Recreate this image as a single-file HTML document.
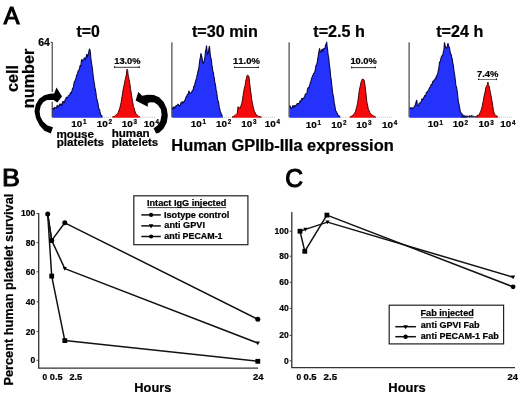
<!DOCTYPE html>
<html><head><meta charset="utf-8"><style>
html,body{margin:0;padding:0;background:#fff;}
body{width:520px;height:396px;overflow:hidden;}
svg{display:block;will-change:transform;font-family:"Liberation Sans",sans-serif;font-kerning:none;}
text{font-weight:bold;stroke:#000;stroke-width:0.22px;}
</style></head><body>
<svg width="520" height="396" viewBox="0 0 520 396">
<rect width="520" height="396" fill="#fff"/>
<line x1="52.2" y1="117.2" x2="156.2" y2="117.2" stroke="#aaa" stroke-width="0.7" stroke-dasharray="1 1"/>
<path d="M52.4 117.8 L52.4 109.7 L52.97 108.08 L53.53 109.33 L54.1 108.44 L54.6 107.08 L55.1 107.82 L55.6 107.76 L56.1 107.92 L56.6 107.91 L57.1 105.56 L57.6 105.21 L58.1 107.31 L58.6 106.01 L59.1 106.4 L59.6 103.74 L60.1 104.45 L60.6 105.15 L61.1 103.71 L61.6 105.65 L62.13 104.92 L62.67 101.89 L63.2 101.27 L63.7 102.32 L64.2 103.03 L64.7 101.07 L65.2 99.67 L65.7 99.32 L66.2 97.28 L66.7 97.42 L67.2 97.63 L67.7 97.39 L68.17 96.15 L68.65 95.65 L69.12 95.11 L69.6 95.29 L70.07 94.01 L70.53 92.46 L71 93.95 L71.55 91.81 L72.1 90.7 L72.6 87.75 L73.1 88.35 L73.6 86.31 L74.1 82.54 L74.6 81.43 L75.1 80.82 L75.6 79.12 L76.1 78.09 L76.6 74.98 L77.12 74.85 L77.65 73.13 L78.17 70.82 L78.7 70.35 L79.2 69.5 L79.7 67.74 L80.2 65.11 L80.8 66.75 L81.25 61.95 L81.7 59.28 L82.27 61.17 L82.83 60.43 L83.4 60.08 L83.9 59.14 L84.4 57.57 L85.1 59.99 L85.8 57.85 L86.3 56.03 L86.8 54.22 L87.4 57.28 L88 55.26 L88.47 53.2 L88.93 51.77 L89.4 48.78 L89.9 49.82 L90.4 52.67 L90.9 58.5 L91.4 62.46 L91.87 65.27 L92.33 68.01 L92.8 72.31 L93.37 77.68 L93.93 81.12 L94.5 84.51 L95 88.46 L95.5 89.75 L96 93.59 L96.5 97.87 L97 99.34 L97.5 101.54 L98 103.53 L98.5 106.83 L99 109.7 L99.5 109.05 L100 112.5 L100.5 114.19 L101 114.97 L101.5 115.48 L102 116.26 L102.5 116.7 L102.5 117.8 Z" fill="#2432fb"/>
<path d="M52.4 109.7 L52.97 108.08 L53.53 109.33 L54.1 108.44 L54.6 107.08 L55.1 107.82 L55.6 107.76 L56.1 107.92 L56.6 107.91 L57.1 105.56 L57.6 105.21 L58.1 107.31 L58.6 106.01 L59.1 106.4 L59.6 103.74 L60.1 104.45 L60.6 105.15 L61.1 103.71 L61.6 105.65 L62.13 104.92 L62.67 101.89 L63.2 101.27 L63.7 102.32 L64.2 103.03 L64.7 101.07 L65.2 99.67 L65.7 99.32 L66.2 97.28 L66.7 97.42 L67.2 97.63 L67.7 97.39 L68.17 96.15 L68.65 95.65 L69.12 95.11 L69.6 95.29 L70.07 94.01 L70.53 92.46 L71 93.95 L71.55 91.81 L72.1 90.7 L72.6 87.75 L73.1 88.35 L73.6 86.31 L74.1 82.54 L74.6 81.43 L75.1 80.82 L75.6 79.12 L76.1 78.09 L76.6 74.98 L77.12 74.85 L77.65 73.13 L78.17 70.82 L78.7 70.35 L79.2 69.5 L79.7 67.74 L80.2 65.11 L80.8 66.75 L81.25 61.95 L81.7 59.28 L82.27 61.17 L82.83 60.43 L83.4 60.08 L83.9 59.14 L84.4 57.57 L85.1 59.99 L85.8 57.85 L86.3 56.03 L86.8 54.22 L87.4 57.28 L88 55.26 L88.47 53.2 L88.93 51.77 L89.4 48.78 L89.9 49.82 L90.4 52.67 L90.9 58.5 L91.4 62.46 L91.87 65.27 L92.33 68.01 L92.8 72.31 L93.37 77.68 L93.93 81.12 L94.5 84.51 L95 88.46 L95.5 89.75 L96 93.59 L96.5 97.87 L97 99.34 L97.5 101.54 L98 103.53 L98.5 106.83 L99 109.7 L99.5 109.05 L100 112.5 L100.5 114.19 L101 114.97 L101.5 115.48 L102 116.26 L102.5 116.7" fill="none" stroke="#0a0a40" stroke-width="1.1" stroke-linejoin="bevel"/>
<path d="M112.5 117.8 L112.5 116.7 L113.07 116.59 L113.63 116.52 L114.2 116.53 L114.66 116.01 L115.12 115.64 L115.58 115.3 L116.04 114.74 L116.5 114.51 L117 113.99 L117.5 113.52 L118 112.52 L118.5 112.07 L119.03 110.09 L119.55 108.95 L120.07 107.07 L120.6 104.64 L121.07 102.75 L121.53 99.9 L122 96.75 L122.5 93.88 L123 90.59 L123.5 87.62 L124 85.76 L124.5 82.93 L125 80.69 L125.43 78.74 L125.87 76.53 L126.3 74.96 L126.8 70.44 L127.2 69.14 L127.7 70.52 L128.1 75.14 L128.6 77.3 L129.1 79.76 L129.57 82.39 L130.03 85.04 L130.5 88.6 L131 91.9 L131.5 95.04 L132 98.21 L132.47 100.65 L132.93 103.4 L133.4 106.29 L133.93 107.67 L134.45 109.93 L134.97 111.23 L135.5 113.11 L136 113.49 L136.5 114.43 L137 115 L137.5 115.3 L138.05 115.69 L138.6 116.24 L139.15 116.39 L139.7 116.7 L139.7 117.8 Z" fill="#f50b0b"/>
<path d="M112.5 116.7 L113.07 116.59 L113.63 116.52 L114.2 116.53 L114.66 116.01 L115.12 115.64 L115.58 115.3 L116.04 114.74 L116.5 114.51 L117 113.99 L117.5 113.52 L118 112.52 L118.5 112.07 L119.03 110.09 L119.55 108.95 L120.07 107.07 L120.6 104.64 L121.07 102.75 L121.53 99.9 L122 96.75 L122.5 93.88 L123 90.59 L123.5 87.62 L124 85.76 L124.5 82.93 L125 80.69 L125.43 78.74 L125.87 76.53 L126.3 74.96 L126.8 70.44 L127.2 69.14 L127.7 70.52 L128.1 75.14 L128.6 77.3 L129.1 79.76 L129.57 82.39 L130.03 85.04 L130.5 88.6 L131 91.9 L131.5 95.04 L132 98.21 L132.47 100.65 L132.93 103.4 L133.4 106.29 L133.93 107.67 L134.45 109.93 L134.97 111.23 L135.5 113.11 L136 113.49 L136.5 114.43 L137 115 L137.5 115.3 L138.05 115.69 L138.6 116.24 L139.15 116.39 L139.7 116.7" fill="none" stroke="#400000" stroke-width="1.0" stroke-linejoin="bevel"/>
<line x1="52.2" y1="42.3" x2="52.2" y2="117.2" stroke="#222" stroke-width="1.0"/>
<line x1="171.9" y1="117.2" x2="275.9" y2="117.2" stroke="#aaa" stroke-width="0.7" stroke-dasharray="1 1"/>
<path d="M172.2 117.8 L172.2 107.4 L172.7 108.98 L173.2 109.25 L173.7 107.07 L174.17 106.66 L174.65 108.29 L175.12 107.54 L175.6 106.88 L176.07 105.41 L176.55 105.8 L177.03 105.35 L177.5 104.83 L177.95 103.87 L178.4 104.86 L178.85 104.98 L179.3 106.12 L179.78 106.19 L180.25 105.36 L180.72 103.52 L181.2 102.55 L181.65 102.28 L182.1 101.85 L182.55 102.05 L183 103.5 L183.47 102.17 L183.95 101.41 L184.43 101.92 L184.9 99.97 L185.38 99.37 L185.85 97.76 L186.33 96.47 L186.8 96.61 L187.25 94.68 L187.7 94.33 L188.15 94.3 L188.6 91.99 L189.07 90.83 L189.55 93.05 L190.03 93.01 L190.5 93.06 L190.97 93.09 L191.45 92.24 L191.93 91.86 L192.4 90.19 L192.85 90.77 L193.3 89.54 L193.75 86.13 L194.2 86.61 L194.67 84.88 L195.15 82.54 L195.62 81.11 L196.1 79.37 L196.6 78.42 L197.1 75.07 L197.6 73.83 L198.05 70.54 L198.5 70.07 L199.05 66.47 L199.6 61.59 L200.03 58.92 L200.47 56.94 L200.9 53.43 L201.4 55.26 L201.9 57.02 L202.4 60.26 L202.9 64.26 L203.37 61.76 L203.83 62.84 L204.3 60.05 L204.9 57.4 L205.5 51.27 L206 49.63 L206.5 45.48 L206.95 49.86 L207.4 54.85 L207.9 53.72 L208.4 52.05 L208.9 48.82 L209.4 46.08 L209.9 50.88 L210.4 56.02 L210.87 58.11 L211.33 59.54 L211.8 64.6 L212.33 67.6 L212.87 71.37 L213.4 72.64 L213.83 76.82 L214.27 77.53 L214.7 81.83 L215.17 83.4 L215.63 85.9 L216.1 90.35 L216.63 91.5 L217.17 95.96 L217.7 100.19 L218.23 101.12 L218.77 103.66 L219.3 108.17 L219.77 108.87 L220.23 111.5 L220.7 112.21 L221.17 113.72 L221.65 114.44 L222.12 115.95 L222.6 116.7 L222.6 117.8 Z" fill="#2432fb"/>
<path d="M172.2 107.4 L172.7 108.98 L173.2 109.25 L173.7 107.07 L174.17 106.66 L174.65 108.29 L175.12 107.54 L175.6 106.88 L176.07 105.41 L176.55 105.8 L177.03 105.35 L177.5 104.83 L177.95 103.87 L178.4 104.86 L178.85 104.98 L179.3 106.12 L179.78 106.19 L180.25 105.36 L180.72 103.52 L181.2 102.55 L181.65 102.28 L182.1 101.85 L182.55 102.05 L183 103.5 L183.47 102.17 L183.95 101.41 L184.43 101.92 L184.9 99.97 L185.38 99.37 L185.85 97.76 L186.33 96.47 L186.8 96.61 L187.25 94.68 L187.7 94.33 L188.15 94.3 L188.6 91.99 L189.07 90.83 L189.55 93.05 L190.03 93.01 L190.5 93.06 L190.97 93.09 L191.45 92.24 L191.93 91.86 L192.4 90.19 L192.85 90.77 L193.3 89.54 L193.75 86.13 L194.2 86.61 L194.67 84.88 L195.15 82.54 L195.62 81.11 L196.1 79.37 L196.6 78.42 L197.1 75.07 L197.6 73.83 L198.05 70.54 L198.5 70.07 L199.05 66.47 L199.6 61.59 L200.03 58.92 L200.47 56.94 L200.9 53.43 L201.4 55.26 L201.9 57.02 L202.4 60.26 L202.9 64.26 L203.37 61.76 L203.83 62.84 L204.3 60.05 L204.9 57.4 L205.5 51.27 L206 49.63 L206.5 45.48 L206.95 49.86 L207.4 54.85 L207.9 53.72 L208.4 52.05 L208.9 48.82 L209.4 46.08 L209.9 50.88 L210.4 56.02 L210.87 58.11 L211.33 59.54 L211.8 64.6 L212.33 67.6 L212.87 71.37 L213.4 72.64 L213.83 76.82 L214.27 77.53 L214.7 81.83 L215.17 83.4 L215.63 85.9 L216.1 90.35 L216.63 91.5 L217.17 95.96 L217.7 100.19 L218.23 101.12 L218.77 103.66 L219.3 108.17 L219.77 108.87 L220.23 111.5 L220.7 112.21 L221.17 113.72 L221.65 114.44 L222.12 115.95 L222.6 116.7" fill="none" stroke="#0a0a40" stroke-width="1.1" stroke-linejoin="bevel"/>
<path d="M232 117.8 L232 116.9 L232.52 116.69 L233.04 116.55 L233.56 116.35 L234.08 115.98 L234.6 115.72 L235.12 115.33 L235.64 114.76 L236.16 114.49 L236.68 113.92 L237.2 113.36 L237.8 109.05 L238.1 106.66 L238.7 108.15 L239.15 108.17 L239.6 107.61 L240.05 108.08 L240.5 106.96 L241.03 105.95 L241.57 103.44 L242.1 102.29 L242.6 98.69 L243.1 95.5 L243.8 91.34 L244.23 88.55 L244.67 86.63 L245.1 85.52 L245.53 82.68 L245.97 79.82 L246.4 78.29 L247.1 75.65 L247.65 75.01 L248.2 75.52 L248.6 76.04 L249 77.01 L249.7 83.82 L250.2 87.31 L250.7 91.8 L251.2 95.1 L251.7 99.17 L252.13 102.02 L252.57 103.8 L253 106.02 L253.43 107.93 L253.87 109.55 L254.3 111.21 L254.78 111.81 L255.25 113.09 L255.72 114.03 L256.2 114.82 L256.74 115.07 L257.28 115.34 L257.82 115.75 L258.36 116.26 L258.9 116.65 L259.42 116.55 L259.94 116.64 L260.46 116.74 L260.98 116.84 L261.5 116.9 L261.5 117.8 Z" fill="#f50b0b"/>
<path d="M232 116.9 L232.52 116.69 L233.04 116.55 L233.56 116.35 L234.08 115.98 L234.6 115.72 L235.12 115.33 L235.64 114.76 L236.16 114.49 L236.68 113.92 L237.2 113.36 L237.8 109.05 L238.1 106.66 L238.7 108.15 L239.15 108.17 L239.6 107.61 L240.05 108.08 L240.5 106.96 L241.03 105.95 L241.57 103.44 L242.1 102.29 L242.6 98.69 L243.1 95.5 L243.8 91.34 L244.23 88.55 L244.67 86.63 L245.1 85.52 L245.53 82.68 L245.97 79.82 L246.4 78.29 L247.1 75.65 L247.65 75.01 L248.2 75.52 L248.6 76.04 L249 77.01 L249.7 83.82 L250.2 87.31 L250.7 91.8 L251.2 95.1 L251.7 99.17 L252.13 102.02 L252.57 103.8 L253 106.02 L253.43 107.93 L253.87 109.55 L254.3 111.21 L254.78 111.81 L255.25 113.09 L255.72 114.03 L256.2 114.82 L256.74 115.07 L257.28 115.34 L257.82 115.75 L258.36 116.26 L258.9 116.65 L259.42 116.55 L259.94 116.64 L260.46 116.74 L260.98 116.84 L261.5 116.9" fill="none" stroke="#400000" stroke-width="1.0" stroke-linejoin="bevel"/>
<line x1="171.9" y1="42.3" x2="171.9" y2="117.2" stroke="#222" stroke-width="1.0"/>
<line x1="289.1" y1="117.2" x2="393.1" y2="117.2" stroke="#aaa" stroke-width="0.7" stroke-dasharray="1 1"/>
<path d="M289.6 117.8 L289.6 105.5 L290.15 106.17 L290.7 108.42 L291.18 107.71 L291.65 108.14 L292.12 107.98 L292.6 106.18 L293.07 105.72 L293.53 107.71 L294 105.78 L294.47 105.39 L294.93 107.2 L295.4 105.42 L295.87 106.13 L296.33 104.8 L296.8 104.94 L297.27 103.26 L297.73 104.29 L298.2 104.63 L298.67 103.2 L299.13 103.34 L299.6 102.68 L300.07 100.51 L300.53 101.99 L301 101.06 L301.47 99.63 L301.93 98.25 L302.4 99.97 L302.87 98.26 L303.33 98.33 L303.8 98.16 L304.27 96.92 L304.73 96.71 L305.2 94.46 L305.67 94.81 L306.13 93.03 L306.6 93.62 L307.07 92.38 L307.53 89.11 L308 88.13 L308.47 87.27 L308.93 88.29 L309.4 85.72 L309.85 84.85 L310.3 82.54 L310.75 81.72 L311.2 79.98 L311.68 78.26 L312.15 77.29 L312.62 75.66 L313.1 74.93 L313.6 73.48 L314.1 73.33 L314.6 72.3 L315.07 71.01 L315.53 68.45 L316 65.36 L316.47 65.28 L316.93 63.53 L317.4 61.33 L317.83 58.06 L318.27 56.13 L318.7 52.39 L319.1 51.58 L319.5 48.31 L319.9 50.05 L320.3 51.98 L320.9 52.14 L321.5 50.47 L322.1 48.95 L322.7 51.94 L323.17 50.18 L323.63 48.79 L324.1 48.52 L324.57 48.85 L325.03 48.14 L325.5 44.82 L326.1 44.92 L326.7 41.83 L327.1 46.71 L327.5 48.63 L327.93 53.2 L328.37 56.51 L328.8 58.22 L329.27 64.3 L329.73 67.07 L330.2 71.12 L330.67 76.65 L331.13 79.12 L331.6 83.65 L332.13 88.28 L332.67 92.88 L333.2 95.64 L333.73 98.35 L334.27 103.7 L334.8 105.18 L335.27 108.98 L335.73 110.67 L336.2 111.46 L336.73 112.56 L337.25 113.58 L337.77 114.67 L338.3 115.51 L338.8 115.79 L339.3 116.17 L339.8 116.77 L340.3 116.7 L340.3 117.8 Z" fill="#2432fb"/>
<path d="M289.6 105.5 L290.15 106.17 L290.7 108.42 L291.18 107.71 L291.65 108.14 L292.12 107.98 L292.6 106.18 L293.07 105.72 L293.53 107.71 L294 105.78 L294.47 105.39 L294.93 107.2 L295.4 105.42 L295.87 106.13 L296.33 104.8 L296.8 104.94 L297.27 103.26 L297.73 104.29 L298.2 104.63 L298.67 103.2 L299.13 103.34 L299.6 102.68 L300.07 100.51 L300.53 101.99 L301 101.06 L301.47 99.63 L301.93 98.25 L302.4 99.97 L302.87 98.26 L303.33 98.33 L303.8 98.16 L304.27 96.92 L304.73 96.71 L305.2 94.46 L305.67 94.81 L306.13 93.03 L306.6 93.62 L307.07 92.38 L307.53 89.11 L308 88.13 L308.47 87.27 L308.93 88.29 L309.4 85.72 L309.85 84.85 L310.3 82.54 L310.75 81.72 L311.2 79.98 L311.68 78.26 L312.15 77.29 L312.62 75.66 L313.1 74.93 L313.6 73.48 L314.1 73.33 L314.6 72.3 L315.07 71.01 L315.53 68.45 L316 65.36 L316.47 65.28 L316.93 63.53 L317.4 61.33 L317.83 58.06 L318.27 56.13 L318.7 52.39 L319.1 51.58 L319.5 48.31 L319.9 50.05 L320.3 51.98 L320.9 52.14 L321.5 50.47 L322.1 48.95 L322.7 51.94 L323.17 50.18 L323.63 48.79 L324.1 48.52 L324.57 48.85 L325.03 48.14 L325.5 44.82 L326.1 44.92 L326.7 41.83 L327.1 46.71 L327.5 48.63 L327.93 53.2 L328.37 56.51 L328.8 58.22 L329.27 64.3 L329.73 67.07 L330.2 71.12 L330.67 76.65 L331.13 79.12 L331.6 83.65 L332.13 88.28 L332.67 92.88 L333.2 95.64 L333.73 98.35 L334.27 103.7 L334.8 105.18 L335.27 108.98 L335.73 110.67 L336.2 111.46 L336.73 112.56 L337.25 113.58 L337.77 114.67 L338.3 115.51 L338.8 115.79 L339.3 116.17 L339.8 116.77 L340.3 116.7" fill="none" stroke="#0a0a40" stroke-width="1.1" stroke-linejoin="bevel"/>
<path d="M349.8 117.8 L349.8 116.9 L350.32 116.6 L350.83 116.49 L351.35 116.26 L351.87 116.09 L352.38 115.62 L352.9 115.39 L353.42 114.58 L353.94 113.84 L354.46 113.36 L354.98 112.22 L355.5 111.72 L356.03 109.35 L356.57 107.29 L357.1 105.33 L357.65 102.54 L358.2 99.11 L358.6 95.36 L359 92.48 L359.55 89.2 L360.1 86.77 L360.65 84.21 L361.2 81.71 L361.8 80.33 L362.4 78.84 L362.9 79.35 L363.4 79.49 L363.85 79.71 L364.3 81.05 L364.75 83.54 L365.2 86.66 L365.6 90.26 L366 93.93 L366.4 97.66 L366.8 101.53 L367.23 103.51 L367.67 105.42 L368.1 108.22 L368.58 109.42 L369.05 110.8 L369.52 111.79 L370 112.93 L370.5 113.56 L371 113.75 L371.5 114.54 L372 114.96 L372.5 115.37 L373.03 115.62 L373.57 115.97 L374.1 116.12 L374.63 116.42 L375.17 116.7 L375.7 116.9 L375.7 117.8 Z" fill="#f50b0b"/>
<path d="M349.8 116.9 L350.32 116.6 L350.83 116.49 L351.35 116.26 L351.87 116.09 L352.38 115.62 L352.9 115.39 L353.42 114.58 L353.94 113.84 L354.46 113.36 L354.98 112.22 L355.5 111.72 L356.03 109.35 L356.57 107.29 L357.1 105.33 L357.65 102.54 L358.2 99.11 L358.6 95.36 L359 92.48 L359.55 89.2 L360.1 86.77 L360.65 84.21 L361.2 81.71 L361.8 80.33 L362.4 78.84 L362.9 79.35 L363.4 79.49 L363.85 79.71 L364.3 81.05 L364.75 83.54 L365.2 86.66 L365.6 90.26 L366 93.93 L366.4 97.66 L366.8 101.53 L367.23 103.51 L367.67 105.42 L368.1 108.22 L368.58 109.42 L369.05 110.8 L369.52 111.79 L370 112.93 L370.5 113.56 L371 113.75 L371.5 114.54 L372 114.96 L372.5 115.37 L373.03 115.62 L373.57 115.97 L374.1 116.12 L374.63 116.42 L375.17 116.7 L375.7 116.9" fill="none" stroke="#400000" stroke-width="1.0" stroke-linejoin="bevel"/>
<line x1="289.1" y1="42.3" x2="289.1" y2="117.2" stroke="#222" stroke-width="1.0"/>
<line x1="409.1" y1="117.2" x2="513.1" y2="117.2" stroke="#aaa" stroke-width="0.7" stroke-dasharray="1 1"/>
<path d="M409.6 117.8 L409.6 108.3 L410.12 107.81 L410.65 107.69 L411.18 108.7 L411.7 108.31 L412.15 107.59 L412.6 108.03 L413.05 109.02 L413.5 108.24 L413.98 107.67 L414.45 105.67 L414.92 106.08 L415.4 104.87 L415.83 103.02 L416.27 101.26 L416.7 100 L417.25 104.35 L417.8 106.42 L418.27 105.88 L418.75 105.39 L419.23 103.22 L419.7 103.07 L420.15 103.03 L420.6 102.4 L421.05 101.82 L421.5 100.96 L421.98 98.52 L422.45 99.75 L422.92 99.71 L423.4 99.02 L423.88 97.15 L424.35 97.03 L424.82 95 L425.3 96.42 L425.75 95.3 L426.2 93.48 L426.65 91.87 L427.1 92.64 L427.62 90.94 L428.14 91.05 L428.66 90.19 L429.18 88.48 L429.7 87.46 L430.15 87.3 L430.6 86.16 L431.05 84.73 L431.5 84.45 L432.02 85 L432.54 81.96 L433.06 81.09 L433.58 81.83 L434.1 79.99 L434.58 79.92 L435.05 78.97 L435.52 77.83 L436 78.89 L436.43 75.91 L436.87 75.79 L437.3 74.47 L437.73 73.9 L438.17 71.14 L438.6 69.6 L439 67.19 L439.4 62.5 L439.95 61.66 L440.5 61.13 L441.05 57.73 L441.6 56.47 L442.07 55.54 L442.53 55.64 L443 53.82 L443.45 51.31 L443.9 50.13 L444.5 42.4 L445.05 45.59 L445.6 46.82 L446.2 48.15 L446.8 48.21 L447.4 46.07 L448 43.16 L448.6 46.59 L449.2 46.75 L449.73 49.21 L450.27 52.8 L450.8 53.97 L451.27 54.62 L451.73 57.77 L452.2 58.54 L452.67 62.49 L453.13 64.42 L453.6 67.54 L454.17 72.28 L454.73 75.45 L455.3 80.17 L455.83 85.16 L456.37 86.76 L456.9 89.23 L457.37 92.73 L457.83 96.47 L458.3 101.59 L458.77 103.12 L459.23 105.61 L459.7 107.84 L460.23 111.65 L460.77 112.09 L461.3 113.47 L461.82 113.8 L462.35 114.35 L462.88 115.03 L463.4 116.08 L463.9 115.69 L464.4 115.73 L464.9 116.29 L465.4 116.21 L465.9 116.99 L466.4 116.7 L466.4 117.8 Z" fill="#2432fb"/>
<path d="M409.6 108.3 L410.12 107.81 L410.65 107.69 L411.18 108.7 L411.7 108.31 L412.15 107.59 L412.6 108.03 L413.05 109.02 L413.5 108.24 L413.98 107.67 L414.45 105.67 L414.92 106.08 L415.4 104.87 L415.83 103.02 L416.27 101.26 L416.7 100 L417.25 104.35 L417.8 106.42 L418.27 105.88 L418.75 105.39 L419.23 103.22 L419.7 103.07 L420.15 103.03 L420.6 102.4 L421.05 101.82 L421.5 100.96 L421.98 98.52 L422.45 99.75 L422.92 99.71 L423.4 99.02 L423.88 97.15 L424.35 97.03 L424.82 95 L425.3 96.42 L425.75 95.3 L426.2 93.48 L426.65 91.87 L427.1 92.64 L427.62 90.94 L428.14 91.05 L428.66 90.19 L429.18 88.48 L429.7 87.46 L430.15 87.3 L430.6 86.16 L431.05 84.73 L431.5 84.45 L432.02 85 L432.54 81.96 L433.06 81.09 L433.58 81.83 L434.1 79.99 L434.58 79.92 L435.05 78.97 L435.52 77.83 L436 78.89 L436.43 75.91 L436.87 75.79 L437.3 74.47 L437.73 73.9 L438.17 71.14 L438.6 69.6 L439 67.19 L439.4 62.5 L439.95 61.66 L440.5 61.13 L441.05 57.73 L441.6 56.47 L442.07 55.54 L442.53 55.64 L443 53.82 L443.45 51.31 L443.9 50.13 L444.5 42.4 L445.05 45.59 L445.6 46.82 L446.2 48.15 L446.8 48.21 L447.4 46.07 L448 43.16 L448.6 46.59 L449.2 46.75 L449.73 49.21 L450.27 52.8 L450.8 53.97 L451.27 54.62 L451.73 57.77 L452.2 58.54 L452.67 62.49 L453.13 64.42 L453.6 67.54 L454.17 72.28 L454.73 75.45 L455.3 80.17 L455.83 85.16 L456.37 86.76 L456.9 89.23 L457.37 92.73 L457.83 96.47 L458.3 101.59 L458.77 103.12 L459.23 105.61 L459.7 107.84 L460.23 111.65 L460.77 112.09 L461.3 113.47 L461.82 113.8 L462.35 114.35 L462.88 115.03 L463.4 116.08 L463.9 115.69 L464.4 115.73 L464.9 116.29 L465.4 116.21 L465.9 116.99 L466.4 116.7" fill="none" stroke="#0a0a40" stroke-width="1.1" stroke-linejoin="bevel"/>
<path d="M476.8 117.8 L476.8 116.5 L477.3 115.24 L477.87 115.32 L478.43 115.13 L479 115.09 L479.55 113.68 L480.1 112.55 L480.67 111.38 L481.23 109.84 L481.8 108 L482.35 105.63 L482.9 102.6 L483.45 100.18 L484 96.72 L484.55 94.07 L485.1 92 L485.65 88.96 L486.2 86.36 L486.8 85.85 L487.4 84.63 L487.9 82.15 L488.4 84.55 L488.85 85.96 L489.3 86.76 L489.85 90.05 L490.4 92.32 L491 95.84 L491.6 98.88 L492.15 101.8 L492.7 105.38 L493.4 110.32 L494 112.67 L494.6 114.27 L495.13 114.85 L495.67 115.45 L496.2 115.87 L496.77 115.9 L497.33 116.3 L497.9 116.5 L497.9 117.8 Z" fill="#f50b0b"/>
<path d="M476.8 116.5 L477.3 115.24 L477.87 115.32 L478.43 115.13 L479 115.09 L479.55 113.68 L480.1 112.55 L480.67 111.38 L481.23 109.84 L481.8 108 L482.35 105.63 L482.9 102.6 L483.45 100.18 L484 96.72 L484.55 94.07 L485.1 92 L485.65 88.96 L486.2 86.36 L486.8 85.85 L487.4 84.63 L487.9 82.15 L488.4 84.55 L488.85 85.96 L489.3 86.76 L489.85 90.05 L490.4 92.32 L491 95.84 L491.6 98.88 L492.15 101.8 L492.7 105.38 L493.4 110.32 L494 112.67 L494.6 114.27 L495.13 114.85 L495.67 115.45 L496.2 115.87 L496.77 115.9 L497.33 116.3 L497.9 116.5" fill="none" stroke="#400000" stroke-width="1.0" stroke-linejoin="bevel"/>
<line x1="409.1" y1="42.3" x2="409.1" y2="117.2" stroke="#222" stroke-width="1.0"/>
<path d="M461 117.6 L461 117.2 L461.5 116.03 L462 116.35 L462.5 115.54 L463 116.06 L463.5 115.03 L464 115.92 L464.5 115.74 L465 115.34 L465.5 116.06 L466 116.39 L466.5 115.41 L467 115.27 L467.5 115.52 L468 116.04 L468.5 116.59 L469 115.21 L469.5 115.2 L470 114.88 L470.5 116.1 L471 115.31 L471.5 115.49 L472 114.04 L472.5 115.68 L473 116.57 L473.5 115.45 L474 116 L474.5 116.17 L475 116.14 L475.5 115.79 L476 116.52 L476.5 116.24 L477 115.53 L477.5 114.68 L477.5 117.2 L477.5 117.6 Z" fill="#1a1a3a"/>
<line x1="50.6" y1="42.3" x2="52.6" y2="42.3" stroke="#333" stroke-width="0.9"/>
<path d="M50.8 133.6 L44.4 130.8 L39.6 125.4 L36 118.2 L34.5 111.3 L35.8 104.5 L39.2 98.8 L44.2 95.2 L49.8 93.7 L54.2 93.6 L56.5 87.6 L62 96.4 L57.3 102.6 L53.6 100 L51.9 99.9 L47.1 100.1 L43.4 102.1 L40.7 106 L39.6 111.3 L40.3 116.6 L43 121.6 L47.5 125.4 L53 127.2 Z" fill="#000" stroke="#fff" stroke-width="3.4" stroke-linejoin="round" paint-order="stroke"/>
<path d="M156.1 133.4 L159.1 132.8 L163.6 128.6 L166.8 122.4 L167.8 115.6 L166.8 108.8 L163.7 102 L159.1 97.3 L153.8 95.1 L147.7 94.7 L142.2 95.7 L138.3 91.9 L135.6 100.6 L147.8 106.8 L147.8 103.2 L150 102.2 L154.4 102.6 L158.1 105.2 L160.9 109.6 L161.6 114.8 L160.4 120.8 L157.5 125.4 L153.6 128.2 Z" fill="#000" stroke="#fff" stroke-width="2.0" stroke-linejoin="round" paint-order="stroke"/>
<line x1="114" y1="67.3" x2="139.7" y2="67.3" stroke="#3a3a3a" stroke-width="1.0"/>
<line x1="114.6" y1="66.2" x2="114.6" y2="67.9" stroke="#222" stroke-width="1.2"/>
<line x1="139.1" y1="66.2" x2="139.1" y2="67.9" stroke="#222" stroke-width="1.2"/>
<line x1="234" y1="67.5" x2="258.8" y2="67.5" stroke="#3a3a3a" stroke-width="1.0"/>
<line x1="234.6" y1="66.4" x2="234.6" y2="68.1" stroke="#222" stroke-width="1.2"/>
<line x1="258.2" y1="66.4" x2="258.2" y2="68.1" stroke="#222" stroke-width="1.2"/>
<line x1="351" y1="67.6" x2="375.8" y2="67.6" stroke="#3a3a3a" stroke-width="1.0"/>
<line x1="351.6" y1="66.5" x2="351.6" y2="68.2" stroke="#222" stroke-width="1.2"/>
<line x1="375.2" y1="66.5" x2="375.2" y2="68.2" stroke="#222" stroke-width="1.2"/>
<line x1="478" y1="79.5" x2="497.1" y2="79.5" stroke="#777" stroke-width="1.0"/>
<line x1="478.6" y1="78.4" x2="478.6" y2="80.1" stroke="#222" stroke-width="1.2"/>
<line x1="496.5" y1="78.4" x2="496.5" y2="80.1" stroke="#222" stroke-width="1.2"/>
<line x1="38.7" y1="213.3" x2="38.7" y2="368.2" stroke="#333" stroke-width="1.3"/>
<line x1="38.1" y1="368.2" x2="258" y2="368.2" stroke="#333" stroke-width="1.3"/>
<line x1="36.5" y1="213.5" x2="38.7" y2="213.5" stroke="#333" stroke-width="0.9"/>
<line x1="36.5" y1="242.6" x2="38.7" y2="242.6" stroke="#333" stroke-width="0.9"/>
<line x1="36.5" y1="271.8" x2="38.7" y2="271.8" stroke="#333" stroke-width="0.9"/>
<line x1="36.5" y1="301.8" x2="38.7" y2="301.8" stroke="#333" stroke-width="0.9"/>
<line x1="36.5" y1="331.6" x2="38.7" y2="331.6" stroke="#333" stroke-width="0.9"/>
<line x1="36.5" y1="360.3" x2="38.7" y2="360.3" stroke="#333" stroke-width="0.9"/>
<polyline points="47.7,214.1 51.7,240.4 64.8,222.8 257.8,319.2" fill="none" stroke="#111" stroke-width="1.5" stroke-linejoin="round"/>
<polyline points="47.7,214.1 51.7,240.4 64.8,268.6 257.8,343.1" fill="none" stroke="#111" stroke-width="1.5" stroke-linejoin="round"/>
<polyline points="47.7,214.1 51.7,276.1 64.8,340.6 257.8,361.3" fill="none" stroke="#111" stroke-width="1.5" stroke-linejoin="round"/>
<circle cx="47.7" cy="214.1" r="2.5" fill="#000"/>
<circle cx="51.7" cy="240.4" r="2.5" fill="#000"/>
<circle cx="64.8" cy="222.8" r="2.5" fill="#000"/>
<circle cx="257.8" cy="319.2" r="2.5" fill="#000"/>
<path d="M62.7 266.92 L66.9 266.92 L64.8 270.7 Z" fill="#000"/>
<path d="M255.7 341.42 L259.9 341.42 L257.8 345.2 Z" fill="#000"/>
<rect x="49.3" y="273.7" width="4.8" height="4.8" fill="#000"/>
<rect x="62.4" y="338.2" width="4.8" height="4.8" fill="#000"/>
<rect x="255.4" y="358.9" width="4.8" height="4.8" fill="#000"/>
<circle cx="51.7" cy="240.4" r="2.4" fill="#000"/>
<rect x="133.8" y="195.8" width="114.1" height="48.9" fill="#fff" stroke="#222" stroke-width="1.2"/>
<line x1="147.5" y1="207.6" x2="226" y2="207.6" stroke="#222" stroke-width="0.9"/>
<line x1="141.3" y1="214.9" x2="160.8" y2="214.9" stroke="#111" stroke-width="1.5"/>
<circle cx="151.1" cy="214.9" r="2.1" fill="#000"/>
<line x1="141.3" y1="225.9" x2="160.8" y2="225.9" stroke="#111" stroke-width="1.5"/>
<path d="M148.8 224.36 L153.4 224.36 L151.1 228.5 Z" fill="#000"/>
<line x1="141.3" y1="236.5" x2="160.8" y2="236.5" stroke="#111" stroke-width="1.5"/>
<circle cx="151.1" cy="236.5" r="2.1" fill="#000"/>
<line x1="291.8" y1="212" x2="291.8" y2="367.7" stroke="#333" stroke-width="1.3"/>
<line x1="291.2" y1="367.7" x2="515" y2="367.7" stroke="#333" stroke-width="1.3"/>
<line x1="289.6" y1="231.2" x2="291.8" y2="231.2" stroke="#333" stroke-width="0.9"/>
<line x1="289.6" y1="256.2" x2="291.8" y2="256.2" stroke="#333" stroke-width="0.9"/>
<line x1="289.6" y1="282.3" x2="291.8" y2="282.3" stroke="#333" stroke-width="0.9"/>
<line x1="289.6" y1="308.4" x2="291.8" y2="308.4" stroke="#333" stroke-width="0.9"/>
<line x1="289.6" y1="335.4" x2="291.8" y2="335.4" stroke="#333" stroke-width="0.9"/>
<line x1="289.6" y1="360.8" x2="291.8" y2="360.8" stroke="#333" stroke-width="0.9"/>
<polyline points="300,231.2 305.4,229.4 327.5,222.1 513.1,277.2" fill="none" stroke="#111" stroke-width="1.5" stroke-linejoin="round"/>
<polyline points="300,231.2 304.8,251.3 326.9,215.1 513.1,286.8" fill="none" stroke="#111" stroke-width="1.5" stroke-linejoin="round"/>
<path d="M303.3 227.72 L307.5 227.72 L305.4 231.5 Z" fill="#000"/>
<path d="M325.4 220.42 L329.6 220.42 L327.5 224.2 Z" fill="#000"/>
<path d="M511 275.52 L515.2 275.52 L513.1 279.3 Z" fill="#000"/>
<rect x="297.6" y="228.8" width="4.8" height="4.8" fill="#000"/>
<rect x="302.4" y="248.9" width="4.8" height="4.8" fill="#000"/>
<rect x="324.5" y="212.7" width="4.8" height="4.8" fill="#000"/>
<circle cx="513.1" cy="286.8" r="2.4" fill="#000"/>
<rect x="389.2" y="305.2" width="114.4" height="38.7" fill="#fff" stroke="#222" stroke-width="1.2"/>
<line x1="421" y1="317.7" x2="473.4" y2="317.7" stroke="#222" stroke-width="0.9"/>
<line x1="395.3" y1="326.7" x2="415.9" y2="326.7" stroke="#111" stroke-width="1.5"/>
<path d="M403.3 325.16 L407.9 325.16 L405.6 329.3 Z" fill="#000"/>
<line x1="395.3" y1="336.7" x2="415.9" y2="336.7" stroke="#111" stroke-width="1.5"/>
<circle cx="405.6" cy="336.7" r="2.2" fill="#000"/>
<g fill="#000">
<text transform="translate(3.85 24.25) scale(0.972 1.000)" font-size="24.2" style="font-weight:normal;stroke-width:1.2px">A</text>
<text transform="translate(76.51 37.4) scale(0.990 1.000)" font-size="16">t=0</text>
<text transform="translate(191.9 37.4) scale(1.011 1.000)" font-size="16">t=30 min</text>
<text transform="translate(313.3 37.4) scale(1.011 1.000)" font-size="16">t=2.5 h</text>
<text transform="translate(436.2 37.4) scale(1.009 1.000)" font-size="16">t=24 h</text>
<text transform="translate(38.22 46.1) scale(0.913 1.000)" font-size="11.46">64</text>
<text transform="translate(114.22 64.2) scale(0.988 1.000)" font-size="9.4">13.0%</text>
<text transform="translate(233 64) scale(1.007 1.000)" font-size="9.4">11.0%</text>
<text transform="translate(350.41 64.2) scale(0.992 1.000)" font-size="9.4">10.0%</text>
<text transform="translate(476.89 76.9) scale(1.006 1.000)" font-size="9.4">7.4%</text>
<text transform="translate(71.18 127)" font-size="9.9">10</text>
<text x="82.89" y="124.2" font-size="6.3">1</text>
<text transform="translate(96.68 127)" font-size="9.9">10</text>
<text x="108.39" y="124.2" font-size="6.3">2</text>
<text transform="translate(121.68 127)" font-size="9.9">10</text>
<text x="133.39" y="124.2" font-size="6.3">3</text>
<text transform="translate(143.78 127)" font-size="9.9">10</text>
<text x="155.49" y="124.2" font-size="6.3">4</text>
<text transform="translate(190.68 127)" font-size="9.9">10</text>
<text x="202.39" y="124.2" font-size="6.3">1</text>
<text transform="translate(215.98 127)" font-size="9.9">10</text>
<text x="227.69" y="124.2" font-size="6.3">2</text>
<text transform="translate(241.18 127)" font-size="9.9">10</text>
<text x="252.89" y="124.2" font-size="6.3">3</text>
<text transform="translate(264.68 127)" font-size="9.9">10</text>
<text x="276.39" y="124.2" font-size="6.3">4</text>
<text transform="translate(305.68 127.5)" font-size="9.9">10</text>
<text x="317.39" y="124.7" font-size="6.3">1</text>
<text transform="translate(331.18 127.5)" font-size="9.9">10</text>
<text x="342.89" y="124.7" font-size="6.3">2</text>
<text transform="translate(356.18 127.5)" font-size="9.9">10</text>
<text x="367.89" y="124.7" font-size="6.3">3</text>
<text transform="translate(381.98 127.5)" font-size="9.9">10</text>
<text x="393.69" y="124.7" font-size="6.3">4</text>
<text transform="translate(427.68 127.4)" font-size="9.9">10</text>
<text x="439.39" y="124.6" font-size="6.3">1</text>
<text transform="translate(452.68 127.4)" font-size="9.9">10</text>
<text x="464.39" y="124.6" font-size="6.3">2</text>
<text transform="translate(478.48 127.4)" font-size="9.9">10</text>
<text x="490.19" y="124.6" font-size="6.3">3</text>
<text transform="translate(500.18 127.4)" font-size="9.9">10</text>
<text x="511.89" y="124.6" font-size="6.3">4</text>
<text transform="translate(17.5 78.45) rotate(-90)" text-anchor="middle" font-size="16.2">cell</text>
<text transform="translate(34.1 78.45) rotate(-90)" text-anchor="middle" font-size="16.2">number</text>
<text transform="translate(56.43 137.5) scale(1.014 1.000)" font-size="11.5">mouse</text>
<text transform="translate(56.73 146.3) scale(1.015 1.000)" font-size="11.5">platelets</text>
<text transform="translate(111.69 137.2) scale(1.009 1.000)" font-size="11.5">human</text>
<text transform="translate(111.75 146.3) scale(0.995 1.000)" font-size="11.5">platelets</text>
<text transform="translate(171.3 150.9) scale(1.027 1.000)" font-size="16">Human GPIIb-IIIa expression</text>
<text transform="translate(2 186.2) scale(1.107 1.000)" font-size="24.27" style="font-weight:normal;stroke-width:1.0px">B</text>
<text transform="translate(20.88 216.4) scale(0.930 1.000)" font-size="9.2">100</text>
<text transform="translate(25.63 245.5) scale(0.930 1.000)" font-size="9.2">80</text>
<text transform="translate(25.63 274.7) scale(0.930 1.000)" font-size="9.2">60</text>
<text transform="translate(25.63 304.7) scale(0.930 1.000)" font-size="9.2">40</text>
<text transform="translate(25.63 334.5) scale(0.930 1.000)" font-size="9.2">20</text>
<text transform="translate(30.39 363.2) scale(0.930 1.000)" font-size="9.2">0</text>
<text transform="translate(42.47 379.9) scale(0.978 1.000)" font-size="8.6">0</text>
<text transform="translate(49.84 379.9) scale(1.064 1.000)" font-size="8.6">0.5</text>
<text transform="translate(69.38 379.9) scale(1.060 1.000)" font-size="8.6">2.5</text>
<text transform="translate(252.97 379.6) scale(1.095 1.000)" font-size="8.6">24</text>
<text transform="translate(134.34 391.9) scale(0.960 1.000)" font-size="13.37">Hours</text>
<text transform="translate(13.0 385.55) rotate(-90) scale(0.981 1)" font-size="13">Percent human platelet survival</text>
<text transform="translate(146.99 206) scale(1.031 1.000)" font-size="8.9">Intact IgG injected</text>
<text transform="translate(163.99 217.5) scale(1.023 1.000)" font-size="8.9">Isotype control</text>
<text transform="translate(164.33 228.2) scale(1.028 1.000)" font-size="8.9">anti GPVI</text>
<text transform="translate(164.34 238.9)" font-size="8.9">anti PECAM-1</text>
<text transform="translate(285.3 186.65) scale(0.961 1.000)" font-size="25.64" style="font-weight:normal;stroke-width:1.1px">C</text>
<text transform="translate(274.38 234.1) scale(0.930 1.000)" font-size="9.2">100</text>
<text transform="translate(279.13 259.1) scale(0.930 1.000)" font-size="9.2">80</text>
<text transform="translate(279.13 285.2) scale(0.930 1.000)" font-size="9.2">60</text>
<text transform="translate(279.13 311.3) scale(0.930 1.000)" font-size="9.2">40</text>
<text transform="translate(279.13 338.3) scale(0.930 1.000)" font-size="9.2">20</text>
<text transform="translate(283.89 363.7) scale(0.930 1.000)" font-size="9.2">0</text>
<text transform="translate(296.57 379.7) scale(0.978 1.000)" font-size="8.6">0</text>
<text transform="translate(303.53 379.7) scale(1.090 1.000)" font-size="8.6">0.5</text>
<text transform="translate(323.56 379.7) scale(1.130 1.000)" font-size="8.6">2.5</text>
<text transform="translate(507.58 379.7) scale(1.060 1.000)" font-size="8.8">24</text>
<text transform="translate(388.34 392)" font-size="12.94">Hours</text>
<text transform="translate(420.49 316.2) scale(1.029 1.000)" font-size="8.9">Fab injected</text>
<text transform="translate(420.83 328.1) scale(1.017 1.000)" font-size="8.9">anti GPVI Fab</text>
<text transform="translate(420.84 338.7) scale(1.016 1.000)" font-size="8.9">anti PECAM-1 Fab</text>
</g>
</svg>
</body></html>
